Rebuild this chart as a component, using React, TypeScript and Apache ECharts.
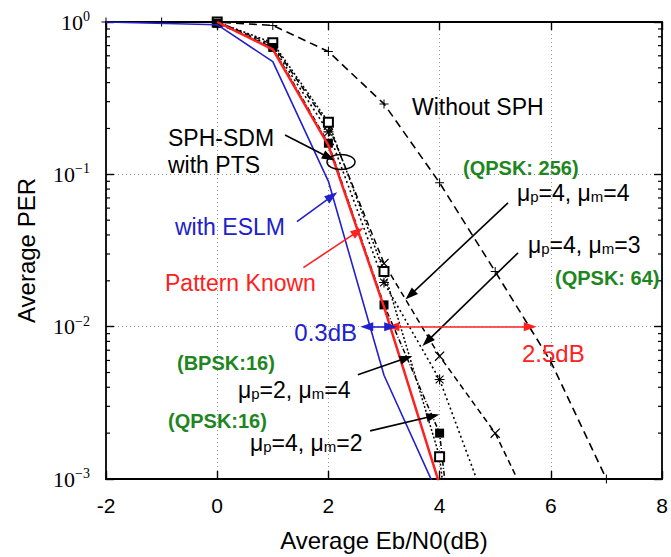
import React, { useEffect, useRef } from "react";
import * as echarts from "echarts";

const SANS = '"Liberation Sans", Arial, Helvetica, sans-serif';
const SERIF = '"Liberation Serif", "Times New Roman", serif';

// ---- data ----
const xTickValues = [-2, 0, 2, 4, 6, 8];
const minorTickValues = [
  0.9, 0.8, 0.7, 0.6, 0.5, 0.4, 0.3, 0.2,
  0.09, 0.08, 0.07, 0.06, 0.05, 0.04, 0.03, 0.02,
  0.009, 0.008, 0.007, 0.006, 0.005, 0.004, 0.003, 0.002,
];

const eslmX = [-2, 0, 1, 2, 3, 4];
const eslmY = [1, 0.96, 0.55, 0.09, 0.0048, 0.00075];

const knownX = [0, 1, 2, 3, 4];
const knownY = [1, 0.66, 0.155, 0.0135, 0.00092];

const ptsFilledX = [0, 1, 2, 3, 4, 5];
const ptsFilledY = [0.98, 0.68, 0.16, 0.0139, 0.002, 0.000001];

const ptsOpenX = [0, 1, 2, 3, 4, 5];
const ptsOpenY = [1, 0.73, 0.22, 0.023, 0.0014, 0.000001];

const ptsCrossX = [0, 1, 2, 3, 4, 5, 6];
const ptsCrossY = [1, 0.71, 0.21, 0.026, 0.0064, 0.002, 0.00035];

const ptsStarX = [0, 1, 2, 3, 4, 5];
const ptsStarY = [1, 0.69, 0.19, 0.0195, 0.0045, 0.00047];

const noSphX = [-2, -1, 0, 1, 2, 3, 4, 5, 6, 7];
const noSphY = [1, 1, 1, 0.95, 0.64, 0.29, 0.088, 0.023, 0.0059, 0.001];

const zip = (xs: number[], ys: number[]) => xs.map((x, i) => [x, ys[i]]);

const PLUS = "path://M4,0H5V4H9V5H5V9H4V5H0V4H4Z";
const XMARK =
  "path://M0.6,1.3L1.3,0.6L8.4,7.7L7.7,8.4Z M7.7,0.6L8.4,1.3L1.3,8.4L0.6,7.7Z";
const STAR =
  "path://M4,0H5V9H4Z M0,4H9V5H0Z M0.6,1.3L1.3,0.6L8.4,7.7L7.7,8.4Z M7.7,0.6L8.4,1.3L1.3,8.4L0.6,7.7Z";

const BLUE = "#2020cc";
const RED = "#ff2020";
const GREEN = "#1e861e";

function arrow(a: number[], b: number[], color: string, both = false) {
  return [
    { coord: a, symbol: both ? "triangle" : "none", lineStyle: { color, width: 1.6, type: "solid" } },
    { coord: b, symbol: "triangle" },
  ];
}

function txt(text: string, x: number, y: number, opts: any = {}) {
  return {
    type: "text",
    x,
    y,
    z: 100,
    style: {
      text,
      fill: opts.fill || "#000",
      fontSize: opts.fontSize || 23,
      fontFamily: SANS,
      fontWeight: opts.bold ? "bold" : "normal",
      align: opts.align || "left",
      verticalAlign: "middle",
    },
  };
}

function muText(p: string, m: string, x: number, y: number) {
  return {
    type: "text",
    x,
    y,
    z: 100,
    style: {
      text: `{a|μ}{s|p}{a|=${p}, μ}{s|m}{a|=${m}}`,
      verticalAlign: "middle",
      align: "left",
      rich: {
        a: { fontSize: 23, fontFamily: SANS, fill: "#000" },
        s: { fontSize: 15, fontFamily: SANS, fill: "#000", padding: [7, 0, 0, 0] },
      },
    },
  };
}

export default function App() {
  const ref = useRef<HTMLDivElement>(null);
  useEffect(() => {
    if (!ref.current) return;
    const chart = echarts.init(ref.current, undefined, { renderer: "svg" });
    const axisLine = { show: true, onZero: false, lineStyle: { color: "#000", width: 1.8 } };
    const lineBase = { type: "line", symbolKeepAspect: true, z: 3, clip: true };
    const option: any = {
      animation: false,
      backgroundColor: "#fff",
      grid: { left: 106, right: 9, top: 22, bottom: 72 },
      xAxis: [
        {
          type: "value",
          min: xTickValues[0],
          max: xTickValues[xTickValues.length - 1],
          interval: 2,
          position: "bottom",
          axisLine,
          axisTick: { inside: true, length: 8, lineStyle: { color: "#000", width: 1.4 } },
          axisLabel: { fontSize: 21, fontFamily: SANS, color: "#000", margin: 16 },
          splitLine: { show: true, lineStyle: { color: "#999", type: [1, 3], width: 1 } },
          name: "Average Eb/N0(dB)",
          nameLocation: "middle",
          nameGap: 49,
          nameTextStyle: { fontSize: 24, fontFamily: SANS, color: "#000" },
        },
        {
          type: "value",
          min: -2,
          max: 8,
          interval: 2,
          position: "top",
          axisLine,
          axisTick: { inside: true, length: 8, lineStyle: { color: "#000", width: 1.4 } },
          axisLabel: { show: false },
          splitLine: { show: false },
        },
      ],
      yAxis: [
        {
          type: "log",
          logBase: 10,
          min: 0.001,
          max: 1,
          position: "left",
          axisLine,
          axisTick: { inside: true, length: 8, lineStyle: { color: "#000", width: 1.4 } },
          axisLabel: {
            margin: 16,
            formatter: (v: number) => {
              const e = Math.round(Math.log10(v));
              return `{b|10}{s|${e < 0 ? "\u2212" + -e : e}}`;
            },
            rich: {
              b: { fontSize: 22, fontFamily: SERIF, color: "#000", lineHeight: 25 },
              s: { fontSize: 14, fontFamily: SERIF, color: "#000", verticalAlign: "top", lineHeight: 14 },
            },
          },
          splitLine: { show: true, lineStyle: { color: "#999", type: [1, 3], width: 1 } },
          name: "Average PER",
          nameLocation: "middle",
          nameGap: 68,
          nameTextStyle: { fontSize: 24, fontFamily: SANS, color: "#000" },
        },
        {
          type: "log",
          logBase: 10,
          min: 0.001,
          max: 1,
          position: "right",
          axisLine,
          axisTick: { inside: true, length: 8, lineStyle: { color: "#000", width: 1.4 } },
          axisLabel: { show: false },
          splitLine: { show: false },
        },
      ],
      series: [
        {
          type: "custom",
          silent: true,
          clip: false,
          z: 5,
          data: minorTickValues.map((v) => [0, v]),
          renderItem: (params: any, api: any) => {
            const v = api.value(1);
            const l = api.coord([-2, v]);
            const r = api.coord([8, v]);
            const st = { stroke: "#000", lineWidth: 1.2 };
            return {
              type: "group",
              children: [
                { type: "line", shape: { x1: l[0], y1: l[1], x2: l[0] + 4, y2: l[1] }, style: st },
                { type: "line", shape: { x1: r[0] - 4, y1: r[1], x2: r[0], y2: r[1] }, style: st },
              ],
            };
          },
        },
        {
          ...lineBase,
          name: "Without SPH",
          data: zip(noSphX, noSphY),
          clip: false,
          symbol: PLUS,
          symbolSize: 9,
          itemStyle: { color: "#000" },
          lineStyle: { color: "#000", width: 1.6, type: [8, 5] },
          markLine: {
            silent: true,
            symbolSize: [9, 13],
            label: { show: false },
            emphasis: { disabled: true },
            data: [
              arrow([1.22, 0.181], [2.01, 0.129], "#000"),
              arrow([5.23, 0.065], [3.47, 0.0161], "#000"),
              arrow([5.41, 0.0305], [3.775, 0.008], "#000"),
              arrow([2.53, 0.00483], [3.4, 0.00622], "#000"),
              arrow([2.75, 0.00207], [3.88, 0.00259], "#000"),
              arrow([1.435, 0.049], [2.065, 0.072], BLUE),
              arrow([1.55, 0.0244], [2.53, 0.0422], RED),
              arrow([3.16, 0.01], [5.63, 0.01], RED, true),
              arrow([2.69, 0.01], [3.12, 0.01], BLUE, true),
            ],
          },
        },
        {
          ...lineBase,
          name: "PTS cross",
          data: zip(ptsCrossX, ptsCrossY),
          symbol: XMARK,
          symbolSize: 10,
          itemStyle: { color: "#000" },
          lineStyle: { color: "#000", width: 1.5, type: [6, 4] },
        },
        {
          ...lineBase,
          name: "PTS star",
          data: zip(ptsStarX, ptsStarY),
          symbol: STAR,
          symbolSize: 10,
          itemStyle: { color: "#000" },
          lineStyle: { color: "#000", width: 1.6, type: [2, 3] },
        },
        {
          ...lineBase,
          name: "PTS open",
          data: zip(ptsOpenX, ptsOpenY),
          symbol: "emptyRect",
          symbolSize: 9,
          itemStyle: { color: "#000", borderWidth: 1 },
          lineStyle: { color: "#000", width: 1.5, type: [2, 2] },
        },
        {
          ...lineBase,
          name: "PTS filled",
          data: zip(ptsFilledX, ptsFilledY),
          symbol: "rect",
          symbolSize: 9,
          itemStyle: { color: "#000" },
          lineStyle: { color: "#000", width: 1.5, type: [5, 2, 1, 2] },
        },
        {
          ...lineBase,
          name: "Pattern Known",
          data: zip(knownX, knownY),
          symbol: "none",
          z: 4,
          lineStyle: { color: RED, width: 2.5 },
        },
        {
          ...lineBase,
          name: "with ESLM",
          data: zip(eslmX, eslmY),
          symbol: "none",
          z: 4,
          lineStyle: { color: BLUE, width: 1.6 },
        },
      ],
      graphic: [
        { type: "ellipse", z: 100, shape: { cx: 341, cy: 162, rx: 14, ry: 7.5 }, style: { fill: "none", stroke: "#000", lineWidth: 1.5 } },
        txt("SPH-SDM", 168, 138),
        txt("with PTS", 168, 165),
        txt("Without SPH", 412, 107),
        txt("with ESLM", 175, 227, { fill: BLUE }),
        txt("Pattern Known", 165, 283, { fill: RED }),
        txt("(QPSK: 256)", 463, 168, { fill: GREEN, bold: true, fontSize: 20 }),
        muText("4", "4", 517, 193),
        muText("4", "3", 528, 245),
        txt("(QPSK: 64)", 555, 278, { fill: GREEN, bold: true, fontSize: 20 }),
        txt("0.3dB", 357, 332, { fill: BLUE, align: "right", fontSize: 24 }),
        txt("2.5dB", 522, 353, { fill: RED, fontSize: 24 }),
        txt("(BPSK:16)", 177, 363, { fill: GREEN, bold: true, fontSize: 20 }),
        muText("2", "4", 238, 390),
        txt("(QPSK:16)", 168, 421, { fill: GREEN, bold: true, fontSize: 20 }),
        muText("4", "2", 250, 443),
      ],
    };
    chart.setOption(option);
    return () => chart.dispose();
  }, []);
  return (
    <div
      ref={ref}
      style={{ position: "fixed", left: 0, top: 0, width: 671, height: 557, background: "#fff" }}
    />
  );
}
